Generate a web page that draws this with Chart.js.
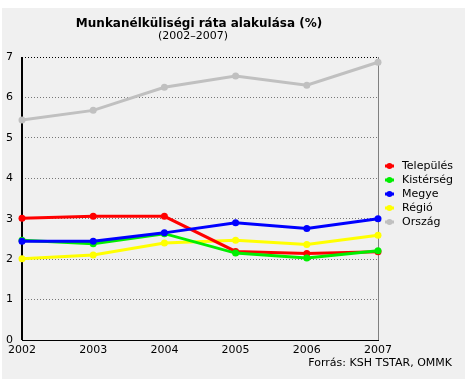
<!DOCTYPE html>
<html>
<head>
<meta charset="utf-8">
<script src="https://cdn.jsdelivr.net/npm/chart.js@4"></script>
<style>
  body { margin: 0; background: #fff; }
</style>
</head>
<body>
<canvas id="lineChart" width="474" height="379"></canvas>
<script>
// years and unemployment rates (%)
const years = ['2002', '2003', '2004', '2005', '2006', '2007'];
const telepules = [3.01, 3.06, 3.06, 2.19, 2.14, 2.18];
const kisterseg = [2.47, 2.38, 2.63, 2.15, 2.03, 2.21];
const megye = [2.44, 2.44, 2.65, 2.90, 2.76, 3.00];
const regio = [2.01, 2.10, 2.40, 2.47, 2.36, 2.59];
const orszag = [5.44, 5.68, 6.25, 6.53, 6.30, 6.87];
const yTicks = [0, 1, 2, 3, 4, 5, 6, 7];

const font = '"DejaVu Sans", Verdana, sans-serif';

function series(label, data, color, order) {
    return {
        label: label,
        data: data,
        borderColor: color,
        backgroundColor: color,
        borderWidth: 3,
        pointRadius: 3.5,
        pointBorderWidth: 0,
        tension: 0,
        order: order
    };
}

// panel background, frame, titles, legend and source
const decor = {
    id: 'decor',
    beforeDraw(chart) {
        const c = chart.ctx;
        c.save();
        c.fillStyle = '#f0f0f0';
        c.fillRect(2, 8, 463, 371);
        c.restore();
    },
    beforeDatasetsDraw(chart) {
        const c = chart.ctx;
        const a = chart.chartArea;
        c.save();
        c.setLineDash([]);
        // left axis (solid) and right border
        c.strokeStyle = '#000';
        c.lineWidth = 2;
        c.beginPath();
        c.moveTo(a.left, a.top);
        c.lineTo(a.left, a.bottom);
        c.stroke();
        c.strokeStyle = '#808080';
        c.lineWidth = 1;
        c.beginPath();
        c.moveTo(a.right + 0.5, a.top);
        c.lineTo(a.right + 0.5, a.bottom);
        c.stroke();
        c.restore();
    },
    afterDraw(chart) {
        const c = chart.ctx;
        c.save();
        c.fillStyle = '#000';
        c.textAlign = 'center';
        c.textBaseline = 'middle';
        c.font = 'bold 12px ' + font;
        c.fillText('Munkanélküliségi ráta alakulása (%)', 199, 24);
        c.font = '11px ' + font;
        c.fillText('(2002–2007)', 193, 36);

        c.textAlign = 'right';
        c.fillText('Forrás: KSH TSTAR, OMMK', 452, 363);

        // legend
        c.textAlign = 'left';
        chart.data.datasets.forEach((ds, i) => {
            const y = 166 + i * 14;
            c.strokeStyle = ds.borderColor;
            c.fillStyle = ds.borderColor;
            c.lineWidth = 3;
            c.beginPath();
            c.moveTo(385, y);
            c.lineTo(394, y);
            c.stroke();
            c.beginPath();
            c.arc(389.5, y, 3, 0, Math.PI * 2);
            c.fill();
            c.fillStyle = '#000';
            c.fillText(ds.label, 402, y);
        });
        c.restore();
    }
};

const ctxLine = document.getElementById('lineChart');

new Chart(ctxLine, {
    type: 'line',
    data: {
        labels: years,
        datasets: [
            series('Település', telepules, '#ff0000', 3),
            series('Kistérség', kisterseg, '#00ee00', 2),
            series('Megye', megye, '#0000ff', 1),
            series('Régió', regio, '#ffff00', 4),
            series('Ország', orszag, '#c0c0c0', 0)
        ]
    },
    options: {
        responsive: false,
        animation: false,
        layout: {
            padding: { top: 57, left: 0, right: 96, bottom: 0 }
        },
        plugins: {
            legend: { display: false },
            tooltip: { enabled: false }
        },
        scales: {
            x: {
                offset: false,
                grid: { display: false, drawTicks: false },
                border: { color: '#000', width: 1, dash: [1, 1] },
                ticks: {
                    color: '#000',
                    font: { family: font, size: 11 },
                    padding: 4,
                    maxRotation: 0
                },
                afterFit(axis) { axis.height = 39; }
            },
            y: {
                min: 0,
                max: 7,
                afterBuildTicks(axis) {
                    axis.ticks = yTicks.map(v => ({ value: v }));
                },
                grid: {
                    drawTicks: false,
                    color: ctx => ctx.tick && ctx.tick.value === 7 ? '#000' : '#777',
                    lineWidth: ctx => ctx.tick && ctx.tick.value === 0 ? 0 : 1
                },
                border: { color: '#000', width: 0, dash: [1, 2] },
                ticks: {
                    color: '#000',
                    font: { family: font, size: 11 },
                    padding: 9
                },
                afterFit(axis) { axis.width = 22; }
            }
        }
    },
    plugins: [decor]
});
</script>
</body>
</html>
